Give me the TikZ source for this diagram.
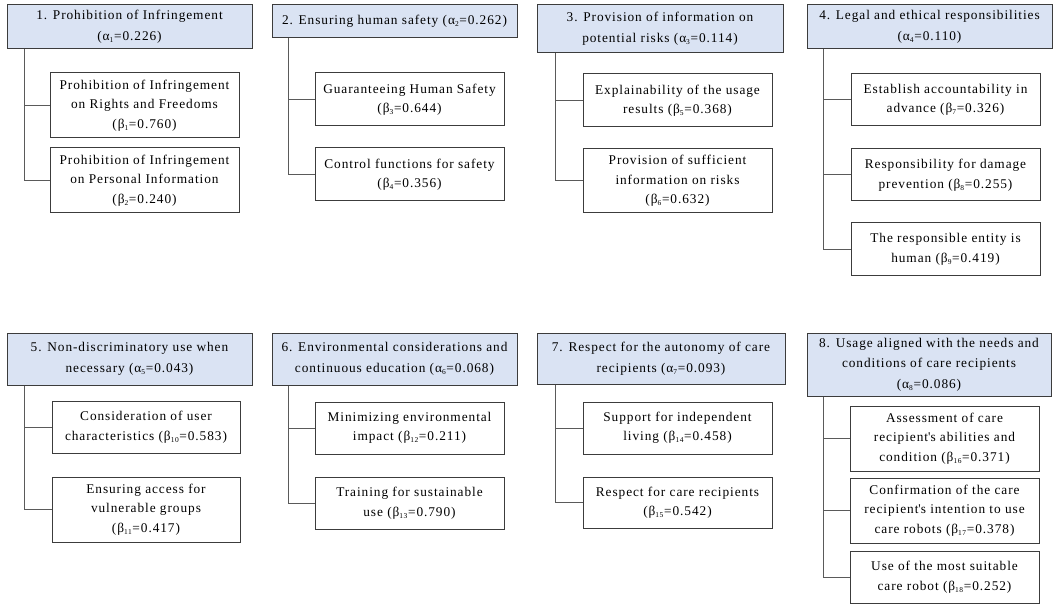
\documentclass[tikz,border=0pt]{standalone}
\usepackage{fontspec}
\setmainfont[LetterSpace=7]{Liberation Serif}
\definecolor{hdrfill}{HTML}{DAE3F3}
\definecolor{edge}{HTML}{3C3C3C}
\definecolor{conn}{HTML}{5A5A5A}
\newcommand\mybox[7]{\node[#1, minimum width={(#5-#3)*0.75pt}, minimum height={(#6-#4)*0.75pt}] (#2) at ({(#3+#5)/2},{(#4+#6)/2}) {#7};}
\newcommand\sbs[1]{\textsubscript{\scalebox{0.8}{#1}}}
\newcommand\apos{\textquotesingle}
\begin{document}
\begin{tikzpicture}[x=0.75pt,y=-0.75pt,
  hdr/.style={draw=edge, line width=0.75pt, fill=hdrfill, inner sep=0pt, align=center, font=\fontsize{10}{15.5}\selectfont},
  sub/.style={draw=edge, line width=0.75pt, fill=white, inner sep=0pt, align=center, font=\fontsize{10}{14.6}\selectfont},
  link/.style={draw=conn, line width=0.75pt}]
\useasboundingbox (0,0) rectangle (1059,609);
\fill[white] (0,0) rectangle (1059,609);
% group 1
\mybox{hdr}{H1}{7}{5}{252}{49}{1. Prohibition of Infringement\\(α\sbs{1}=0.226)}
\mybox{sub}{C1}{50}{73}{239}{138}{Prohibition of Infringement\\on Rights and Freedoms\\(β\sbs{1}=0.760)}
\mybox{sub}{C2}{50}{148}{239}{213}{Prohibition of Infringement\\on Personal Information\\(β\sbs{2}=0.240)}
\coordinate (T1) at ([xshift=18*0.75pt]H1.south west);
\draw[link] (T1) |- (C1.west);
\draw[link] (T1) |- (C2.west);
% group 2
\mybox{hdr}{H2}{272}{5}{517}{38}{2. Ensuring human safety (α\sbs{2}=0.262)}
\mybox{sub}{C3}{315}{73}{504}{126}{Guaranteeing Human Safety\\(β\sbs{3}=0.644)}
\mybox{sub}{C4}{315}{148}{504}{201}{Control functions for safety\\(β\sbs{4}=0.356)}
\coordinate (T2) at ([xshift=17*0.75pt]H2.south west);
\draw[link] (T2) |- (C3.west);
\draw[link] (T2) |- (C4.west);
% group 3
\mybox{hdr}{H3}{537}{5}{783}{53}{3. Provision of information on\\potential risks (α\sbs{3}=0.114)}
\mybox{sub}{C5}{583}{74}{772}{127}{Explainability of the usage\\results (β\sbs{5}=0.368)}
\mybox{sub}{C6}{583}{149}{772}{213}{Provision of sufficient\\information on risks\\(β\sbs{6}=0.632)}
\coordinate (T3) at ([xshift=19*0.75pt]H3.south west);
\draw[link] (T3) |- (C5.west);
\draw[link] (T3) |- (C6.west);
% group 4
\mybox{hdr}{H4}{807}{5}{1052}{49}{4. Legal and ethical responsibilities\\(α\sbs{4}=0.110)}
\mybox{sub}{C7}{851}{74}{1040}{126}{Establish accountability in\\advance (β\sbs{7}=0.326)}
\mybox{sub}{C8}{851}{149}{1040}{201}{Responsibility for damage\\prevention (β\sbs{8}=0.255)}
\mybox{sub}{C9}{851}{223}{1040}{276}{The responsible entity is\\human (β\sbs{9}=0.419)}
\coordinate (T4) at ([xshift=17*0.75pt]H4.south west);
\draw[link] (T4) |- (C7.west);
\draw[link] (T4) |- (C8.west);
\draw[link] (T4) |- (C9.west);
% group 5
\mybox{hdr}{H5}{7}{333}{252}{385}{5. Non-discriminatory use when\\necessary (α\sbs{5}=0.043)}
\mybox{sub}{C10}{52}{401}{240}{453}{Consideration of user\\characteristics (β\sbs{10}=0.583)}
\mybox{sub}{C11}{52}{477}{240}{542}{Ensuring access for\\vulnerable groups\\(β\sbs{11}=0.417)}
\coordinate (T5) at ([xshift=18*0.75pt]H5.south west);
\draw[link] (T5) |- (C10.west);
\draw[link] (T5) |- (C11.west);
% group 6
\mybox{hdr}{H6}{272}{333}{517}{385}{6. Environmental considerations and\\continuous education (α\sbs{6}=0.068)}
\mybox{sub}{C12}{315}{402}{504}{454}{Minimizing environmental\\impact (β\sbs{12}=0.211)}
\mybox{sub}{C13}{315}{477}{504}{529}{Training for sustainable\\use (β\sbs{13}=0.790)}
\coordinate (T6) at ([xshift=17*0.75pt]H6.south west);
\draw[link] (T6) |- (C12.west);
\draw[link] (T6) |- (C13.west);
% group 7
\mybox{hdr}{H7}{537}{333}{785}{384}{7. Respect for the autonomy of care\\recipients (α\sbs{7}=0.093)}
\mybox{sub}{C14}{583}{402}{772}{454}{Support for independent\\living (β\sbs{14}=0.458)}
\mybox{sub}{C15}{583}{477}{772}{528}{Respect for care recipients\\(β\sbs{15}=0.542)}
\coordinate (T7) at ([xshift=19*0.75pt]H7.south west);
\draw[link] (T7) |- (C14.west);
\draw[link] (T7) |- (C15.west);
% group 8
\mybox{hdr}{H8}{807}{333}{1051}{396}{8. Usage aligned with the needs and\\conditions of care recipients\\(α\sbs{8}=0.086)}
\mybox{sub}{C16}{850}{406}{1039}{471}{Assessment of care\\recipient\apos s abilities and\\condition (β\sbs{16}=0.371)}
\mybox{sub}{C17}{850}{478}{1039}{543}{Confirmation of the care\\recipient\apos s intention to use\\care robots (β\sbs{17}=0.378)}
\mybox{sub}{C18}{850}{551}{1039}{603}{Use of the most suitable\\care robot (β\sbs{18}=0.252)}
\coordinate (T8) at ([xshift=17*0.75pt]H8.south west);
\draw[link] (T8) |- (C16.west);
\draw[link] (T8) |- (C17.west);
\draw[link] (T8) |- (C18.west);
\end{tikzpicture}
\end{document}
